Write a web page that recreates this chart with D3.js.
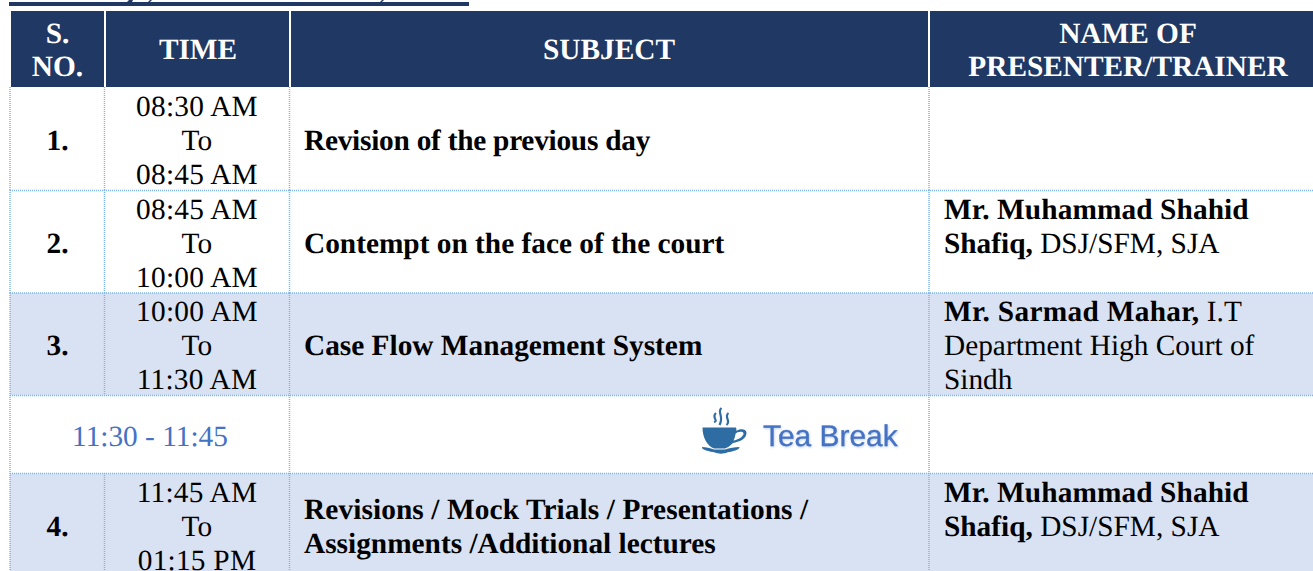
<!DOCTYPE html>
<html>
<head>
<meta charset="utf-8">
<script src="https://cdn.jsdelivr.net/npm/d3@7"></script>
<style>
	html, body { margin: 0; padding: 0; background: #fff; overflow: hidden; }
	svg { display: block; }
	text { font-family: "Liberation Serif", serif; font-size: 29.33px; text-rendering: geometricPrecision; }
</style>
</head>
<body>
<script>
//table content
let headers = [["S.", "NO."], ["TIME"], ["SUBJECT"], ["NAME OF", "PRESENTER/TRAINER"]];
let serials = ["1.", "2.", "3.", "", "4."];
let times = [
	["08:30 AM", "To", "08:45 AM"],
	["08:45 AM", "To", "10:00 AM"],
	["10:00 AM", "To", "11:30 AM"],
	["11:30 - 11:45"],
	["11:45 AM", "To", "01:15 PM"]
];
let subjects = [
	["Revision of the previous day"],
	["Contempt on the face of the court"],
	["Case Flow Management System"],
	[],
	["Revisions / Mock Trials / Presentations /", "Assignments /Additional lectures"]
];
//each line of a presenter cell is [bold part, regular part]
let presenters = [
	[],
	[["Mr. Muhammad Shahid", ""], ["Shafiq,", " DSJ/SFM, SJA"]],
	[["Mr. Sarmad Mahar,", " I.T"], ["", "Department High Court of"], ["", "Sindh"]],
	[],
	[["Mr. Muhammad Shahid", ""], ["Shafiq,", " DSJ/SFM, SJA"]]
];
let shaded = [false, false, true, false, true];
let breakLabel = "Tea Break";

let width = 1313;
let height = 571;

let navy = "#1f3864";
let shade = "#d9e2f3";
let dotted = "#7db4ea";
let blue = "#4472c4";

let colEdges = [10, 105, 290, 929, 1313];
let gridX = [10, 104.5, 289.5, 929];
let rowEdges = [87, 190.5, 293, 395.5, 473.5, 580];
let textMid = [140.5, 243, 345.5, 436, 526.5]; //middle line of each row's text
let headerTop = 11;
let lineGap = 34;
let baseShift = 9.5;

//small fits to the widths in the reference, which was set by another renderer
let subjectSpacing = [-0.25, 0, 0, 0, 0.1];
let presenterSpacing = [0, 0.1, 0.3, 0, 0.1];

let svg = d3.select("body").append("svg")
	.attr("width", width)
	.attr("height", height);

let defs = svg.append("defs");
let soft = defs.append("filter").attr("id", "soft")
	.attr("x", "-5%").attr("y", "-20%").attr("width", "110%").attr("height", "150%");
soft.append("feDropShadow")
	.attr("dx", 0.6).attr("dy", 1)
	.attr("stdDeviation", 0.9)
	.attr("flood-color", "#4472c4")
	.attr("flood-opacity", 0.35);

//piece of the rule under the cut off title, with the descenders that reach it
svg.append("rect")
	.attr("x", 9).attr("y", 2)
	.attr("width", 460).attr("height", 4)
	.attr("fill", navy);
svg.append("path")
	.attr("d", "M127 2 L129 0 H133 L132 2 Z M148 2 L150 0 H152 L150 2 Z M380 2 L382 0 H384 L382 2 Z")
	.attr("fill", navy);

//header band
svg.selectAll(".head")
	.data(headers)
	.enter().append("rect")
	.attr("class", "head")
	.attr("x", (d, i) => colEdges[i] + 1)
	.attr("y", headerTop)
	.attr("width", (d, i) => colEdges[i + 1] - colEdges[i] - (i == 3 ? 1 : 2))
	.attr("height", rowEdges[0] - headerTop)
	.attr("fill", navy);

let headerCentre = [57.5, 198, 609, 1128];
headers.forEach((h, i) => {
	let g = svg.append("g");
	h.forEach((row, j) => {
		g.append("text")
			.attr("x", headerCentre[i])
			.attr("y", 49.5 + baseShift + (j - (h.length - 1) / 2) * 33)
			.attr("text-anchor", "middle")
			.attr("font-weight", "bold")
			.attr("fill", "#fff")
			.text(row);
	});
});

//writes lines centered on a y, middle line on the cell middle
function lines(g, rows, x, cy, anchor, weight, fill) {
	return rows.map((row, i) => {
		return g.append("text")
			.attr("x", x)
			.attr("y", cy + baseShift + (i - (rows.length - 1) / 2) * lineGap)
			.attr("text-anchor", anchor)
			.attr("font-weight", weight)
			.attr("fill", fill)
			.text(row);
	});
}

//body rows
serials.forEach((s, i) => {
	let top = rowEdges[i];
	let bottom = rowEdges[i + 1];
	let cy = textMid[i];
	let g = svg.append("g").attr("class", "row");

	if (shaded[i]) {
		g.append("rect")
			.attr("x", colEdges[0])
			.attr("y", top)
			.attr("width", width - colEdges[0])
			.attr("height", bottom - top)
			.attr("fill", shade);
	}

	let isBreak = i == 3;
	lines(g, s ? [s] : [], headerCentre[0], cy, "middle", "bold", "#000");

	if (isBreak) {
		g.append("text")
			.attr("x", 150)
			.attr("y", cy + baseShift)
			.attr("text-anchor", "middle")
			.attr("fill", blue)
			.text(times[i][0]);
	} else {
		lines(g, times[i], 197, i == 4 ? cy - 0.5 : cy, "middle", "normal", "#000")
			.forEach(t => t.style("letter-spacing", "0.25px"));
	}

	let subjectLines = lines(g, subjects[i], colEdges[2] + 14, cy, "start", "bold", "#000");
	if (subjectLines.length) subjectLines[0].style("letter-spacing", subjectSpacing[i] + "px");

	//presenter cells are top aligned with the time column
	presenters[i].forEach((p, j) => {
		let t = g.append("text")
			.attr("x", colEdges[3] + 15)
			.attr("y", cy + baseShift + (j - 1) * lineGap)
			.attr("xml:space", "preserve")
			.attr("fill", "#000");
		t.append("tspan")
			.attr("font-weight", "bold")
			.style("letter-spacing", (j == 0 ? presenterSpacing[i] : 0) + "px")
			.text(p[0]);
		t.append("tspan").text(p[1]);
	});
});

//dotted grid
let grid = svg.append("g")
	.attr("stroke", dotted)
	.attr("stroke-width", 1.5)
	.attr("stroke-dasharray", "1 1")
	.attr("fill", "none");

grid.selectAll(".hline")
	.data(rowEdges.slice(1, 5))
	.enter().append("line")
	.attr("class", "hline")
	.attr("x1", colEdges[0])
	.attr("x2", width)
	.attr("y1", d => d)
	.attr("y2", d => d);

//verticals: the break row has no line after the first column
gridX.forEach((x, c) => {
	rowEdges.slice(0, 5).forEach((top, r) => {
		if (r == 3 && c == 1) return;
		grid.append("line")
			.attr("x1", x).attr("x2", x)
			.attr("y1", Math.floor(top)).attr("y2", Math.floor(rowEdges[r + 1]));
	});
});

//tea cup icon
let cup = svg.append("g")
	.attr("transform", "translate(702, 407)")
	.attr("fill", "#2e6ca4");
cup.append("path")
	.attr("d", "M0.5 20.5 H34 C34.5 22 34.5 23 34.5 24 C37 21.5 44.5 21.5 44.5 26 C44.5 32 37 35 31 36 C28 39 25 41 23 41.5 H12 C5 39 0.5 30 0.5 20.5 Z M33.5 27 C33 30 32.5 31.5 31.5 33.5 C36 33 41.5 29.5 41.5 26.5 C41.5 24 35 24.5 33.5 27 Z")
	.attr("fill-rule", "evenodd");
cup.append("path")
	.attr("d", "M0 40 C4 40 8 41 12 42.5 H23 C27 41 33 40 37.5 40 C38 43 30 44.5 25 45.5 C22 47 16 47 13 45.5 C8 44.5 -1 43 0 40 Z");
cup.selectAll(".steam")
	.data([12.5, 18, 25])
	.enter().append("path")
	.attr("class", "steam")
	.attr("d", (d, i) => {
		let y0 = i == 1 ? 1 : 6;
		let y1 = i == 1 ? 18 : (i == 0 ? 15 : 18);
		return `M${d + 1.5} ${y0} C${d - 3.5} ${y0 + 4} ${d + 4.5} ${y0 + 8} ${d - 0.5} ${y1}`;
	})
	.attr("fill", "none")
	.attr("stroke", "#2e6ca4")
	.attr("stroke-width", 2.2);

svg.append("text")
	.attr("x", 763)
	.attr("y", 445.5)
	.attr("fill", blue)
	.attr("stroke", blue)
	.attr("stroke-width", 0.3)
	.attr("filter", "url(#soft)")
	.style("font-family", "'Liberation Sans', sans-serif")
	.style("font-size", "29.9px")
	.text(breakLabel);
</script>
</body>
</html>
